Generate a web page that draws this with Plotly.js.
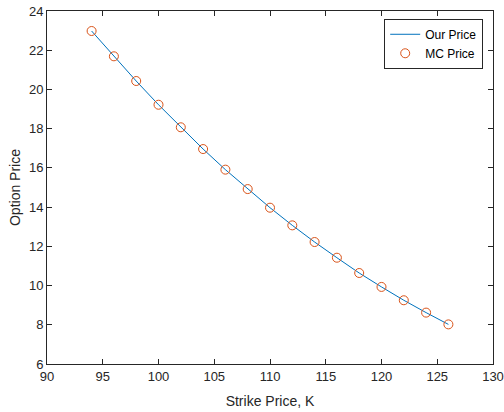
<!DOCTYPE html>
<html>
<head>
<meta charset="utf-8">
<script src="https://cdn.plot.ly/plotly-3.0.1.min.js"></script>
<style>html,body{margin:0;padding:0;background:#fff;}#chart{width:504px;height:412px;}</style>
</head>
<body>
<div id="chart"></div>
<script>
const strikes = [94, 96, 98, 100, 102, 104, 106, 108, 110, 112, 114, 116, 118, 120, 122, 124, 126];
const ourPrice = [22.98, 21.69, 20.43, 19.22, 18.07, 16.96, 15.91, 14.92, 13.97, 13.07, 12.22, 11.42, 10.64, 9.93, 9.25, 8.62, 8.02];
const mcPrice  = [22.98, 21.69, 20.43, 19.22, 18.07, 16.96, 15.91, 14.92, 13.97, 13.07, 12.22, 11.42, 10.64, 9.93, 9.25, 8.62, 8.02];
const xTicks = [90, 95, 100, 105, 110, 115, 120, 125, 130];
const yTicks = [6, 8, 10, 12, 14, 16, 18, 20, 22, 24];

const axisCommon = {
  showgrid: false, zeroline: false, showline: true, linecolor: '#262626', linewidth: 1,
  mirror: 'ticks', ticks: 'inside', ticklen: 5, tickcolor: '#262626', tickwidth: 1,
  tickfont: {family: 'Liberation Sans, Arial, sans-serif', size: 13, color: '#262626'}
};

const data = [
  {x: strikes, y: ourPrice, type: 'scatter', mode: 'lines', name: 'Our Price',
   line: {color: '#0072BD', width: 1}},
  {x: strikes, y: mcPrice, type: 'scatter', mode: 'markers', name: 'MC Price',
   marker: {symbol: 'circle-open', size: 9, color: '#D95319', line: {width: 1, color: '#D95319'}}}
];

const layout = {
  width: 504, height: 412,
  margin: {l: 47, r: 11, t: 11, b: 48},
  paper_bgcolor: '#fff', plot_bgcolor: '#fff',
  font: {family: 'Liberation Sans, Arial, sans-serif', color: '#262626'},
  xaxis: Object.assign({}, axisCommon, {
    range: [90, 130], tickvals: xTicks, ticktext: xTicks.map(String),
    title: {text: 'Strike Price, K', font: {size: 14, color: '#262626'}, standoff: 13}
  }),
  yaxis: Object.assign({}, axisCommon, {
    range: [6, 24], tickvals: yTicks, ticktext: yTicks.map(String),
    title: {text: 'Option Price', font: {size: 14, color: '#262626'}, standoff: 5}
  }),
  showlegend: true,
  legend: {x: 0.978, xanchor: 'right', y: 0.978, yanchor: 'top',
    bgcolor: '#fff', bordercolor: '#262626', borderwidth: 1,
    font: {size: 12, color: '#000'}, tracegroupgap: 0, entrywidth: 64}
};

Plotly.newPlot('chart', data, layout, {displayModeBar: false, staticPlot: true});
</script>
</body>
</html>
